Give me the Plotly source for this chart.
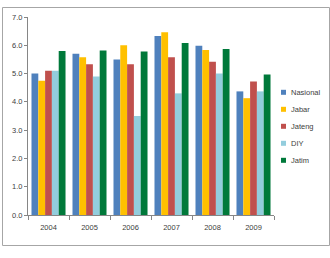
import plotly.graph_objects as go

years = ["2004", "2005", "2006", "2007", "2008", "2009"]
nasional = [5.0, 5.7, 5.5, 6.33, 5.98, 4.37]
jabar = [4.75, 5.58, 6.0, 6.46, 5.83, 4.13]
jateng = [5.1, 5.33, 5.33, 5.58, 5.42, 4.72]
diy = [5.1, 4.9, 3.5, 4.3, 5.0, 4.37]
jatim = [5.8, 5.82, 5.78, 6.08, 5.87, 4.97]

series = [
    ("Nasional", nasional, "#4F81BD"),
    ("Jabar", jabar, "#FFC000"),
    ("Jateng", jateng, "#C0504D"),
    ("DIY", diy, "#93CDDD"),
    ("Jatim", jatim, "#00793A"),
]

fig = go.Figure()
for name, vals, col in series:
    fig.add_trace(go.Bar(x=years, y=vals, name=name, marker_color=col,
                         marker_line_width=0, showlegend=False))

W, H = 330, 258
L, R, T, B = 28, 56, 17, 43
pw, ph = W - L - R, H - T - B

def px2paper_x(px):
    return (px - L) / pw

def px2paper_y(py):
    return (H - B - py) / ph

txtcol = "#404040"
font = dict(family="Liberation Sans, Arial, sans-serif", size=7.5, color=txtcol)

shapes = [dict(type="rect", xref="paper", yref="paper",
               x0=px2paper_x(2.5), x1=px2paper_x(329.5),
               y0=px2paper_y(245.5), y1=px2paper_y(7.5),
               line=dict(color="#A6A6A6", width=1), fillcolor="rgba(0,0,0,0)",
               layer="below")]
annotations = []
# legend (drawn manually to match compact spacing)
leg_x0, leg_y0, leg_dy, sw = 281, 92.3, 17, 5
for i, (name, vals, col) in enumerate(series):
    cy = leg_y0 + i * leg_dy
    shapes.append(dict(type="rect", xref="paper", yref="paper",
                       x0=px2paper_x(leg_x0), x1=px2paper_x(leg_x0 + sw),
                       y0=px2paper_y(cy + sw / 2), y1=px2paper_y(cy - sw / 2),
                       line=dict(width=0), fillcolor=col))
    annotations.append(dict(xref="paper", yref="paper", x=px2paper_x(leg_x0 + sw + 2.5),
                            y=px2paper_y(cy), text=name, showarrow=False,
                            xanchor="left", yanchor="middle",
                            font=dict(size=7.5, color=txtcol)))

fig.update_layout(
    width=W, height=H,
    margin=dict(l=L, r=R, t=T, b=B, pad=0),
    paper_bgcolor="white", plot_bgcolor="white",
    barmode="group", bargap=0.17, bargroupgap=0,
    font=font,
    showlegend=False,
    xaxis=dict(showline=True, linecolor="#868686", linewidth=1,
               ticks="outside", tickson="boundaries", ticklen=4, tickcolor="#868686",
               showgrid=False, ticklabelstandoff=5),
    yaxis=dict(range=[0, 7], tickvals=[0, 1, 2, 3, 4, 5, 6, 7],
               ticktext=["0.0", "1.0", "2.0", "3.0", "4.0", "5.0", "6.0", "7.0"],
               showline=True, linecolor="#868686", linewidth=1,
               ticks="outside", ticklen=3, tickcolor="#868686",
               showgrid=False, zeroline=False),
    shapes=shapes,
    annotations=annotations,
)

fig.write_html("out.html")
